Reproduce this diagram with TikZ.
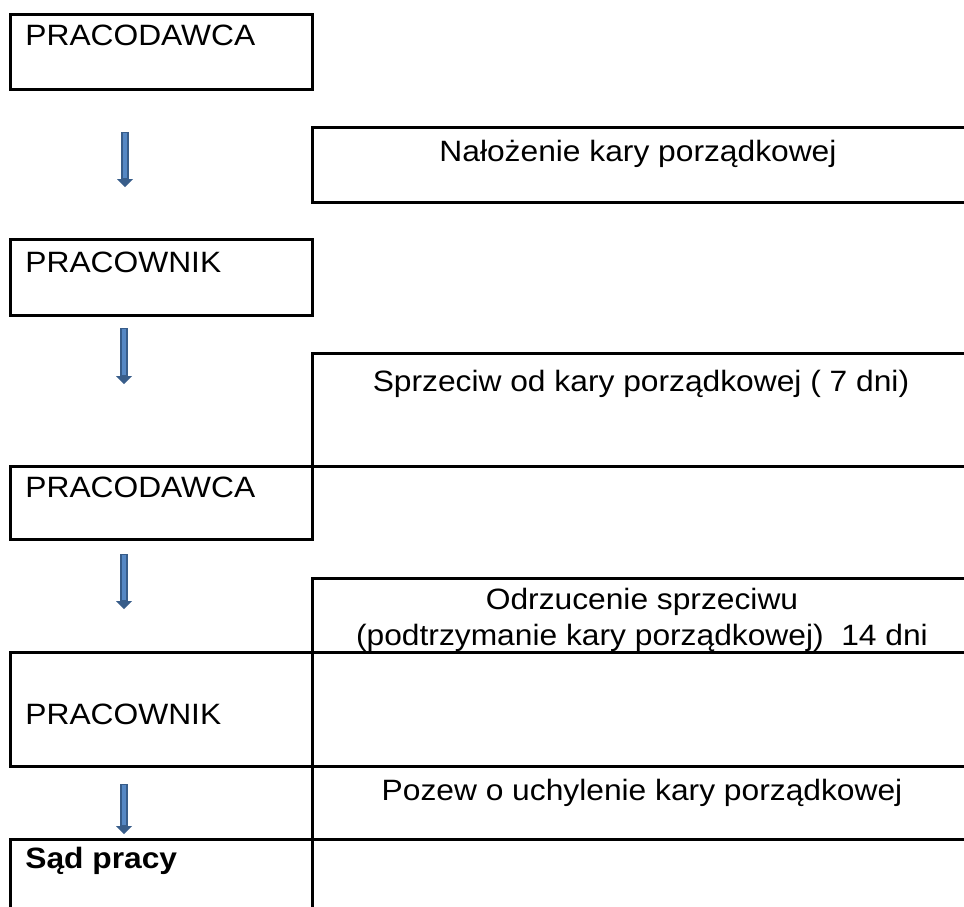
\documentclass[tikz,border=0pt]{standalone}
\usepackage{fontspec}
\setmainfont{Liberation Sans}[FakeStretch=1.08]
\usetikzlibrary{arrows.meta}
\usetikzlibrary{positioning}
\definecolor{pfeilrand}{RGB}{56,93,138}
\definecolor{pfeilfuellung}{RGB}{86,136,196}
\newcommand{\schriftgroesse}{\fontsize{14.7}{18}\selectfont}

\begin{document}
\begin{tikzpicture}[
  x=0.5pt, y=-0.5pt,
  kasten/.style = {draw, line width=1.5pt},
  links/.style = {anchor=base west, inner sep=0pt, font=\schriftgroesse},
  mitte/.style = {anchor=base, inner sep=0pt, align=center, font=\schriftgroesse},
  pfeil/.style = {draw=pfeilrand, line width=3.8pt,
    -{Triangle[width=8pt,length=4pt,line width=0pt]},
    postaction={draw=pfeilfuellung, line width=1.6pt, shorten >=4.6pt, shorten <=0.6pt, -}}
  ]
  \useasboundingbox (0,0) rectangle (964,906);
  \clip (0,0) rectangle (964,906);

	% linke Spalte
	\draw[kasten] (10,14) rectangle (312,89);
	\draw[kasten] (10,239) rectangle (312,315);
	\draw[kasten] (10,466) rectangle (312,539);
	\draw[kasten] (10,652) rectangle (312,766);
	\draw[kasten] (10,839) rectangle (312,930);

	% rechte Spalte
	\draw[kasten] (312,127) rectangle (990,202);
	\draw[kasten] (312,353) rectangle (990,466);
	\draw[kasten] (312,578) rectangle (990,652);
	\draw[kasten] (312,766) rectangle (990,839);

	\node[links] (pracodawca1) at (25,45) {PRACODAWCA};
	\node[links] (pracownik1) at (25,272) {PRACOWNIK};
	\node[links] (pracodawca2) at (25,497) {PRACODAWCA};
	\node[links] (pracownik2) at (25,724) {PRACOWNIK};
	\node[links, font=\schriftgroesse\bfseries] (sad) at (25,868) {Sąd pracy};

	\node[mitte] (nalozenie) at (638,161) {Nałożenie kary porządkowej};
	\node[mitte] (sprzeciw) at (641,391) {Sprzeciw od kary porządkowej ( 7 dni)};
	\node[mitte] (odrzucenie) at (642,645) {Odrzucenie sprzeciwu\\(podtrzymanie kary porządkowej)~~14 dni};
	\node[mitte] (pozew) at (642,800) {Pozew o uchylenie kary porządkowej};

	\coordinate (p1a) at (125,132);
	\coordinate (p1b) at (125,187);
	\coordinate (p2a) at (124,328);
	\coordinate (p2b) at (124,384);
	\coordinate (p3a) at (124,554);
	\coordinate (p3b) at (124,609);
	\coordinate (p4a) at (124,784);
	\coordinate (p4b) at (124,834);

	\draw[pfeil] (p1a) -- (p1b);
	\draw[pfeil] (p2a) -- (p2b);
	\draw[pfeil] (p3a) -- (p3b);
	\draw[pfeil] (p4a) -- (p4b);

\end{tikzpicture}
\end{document}
